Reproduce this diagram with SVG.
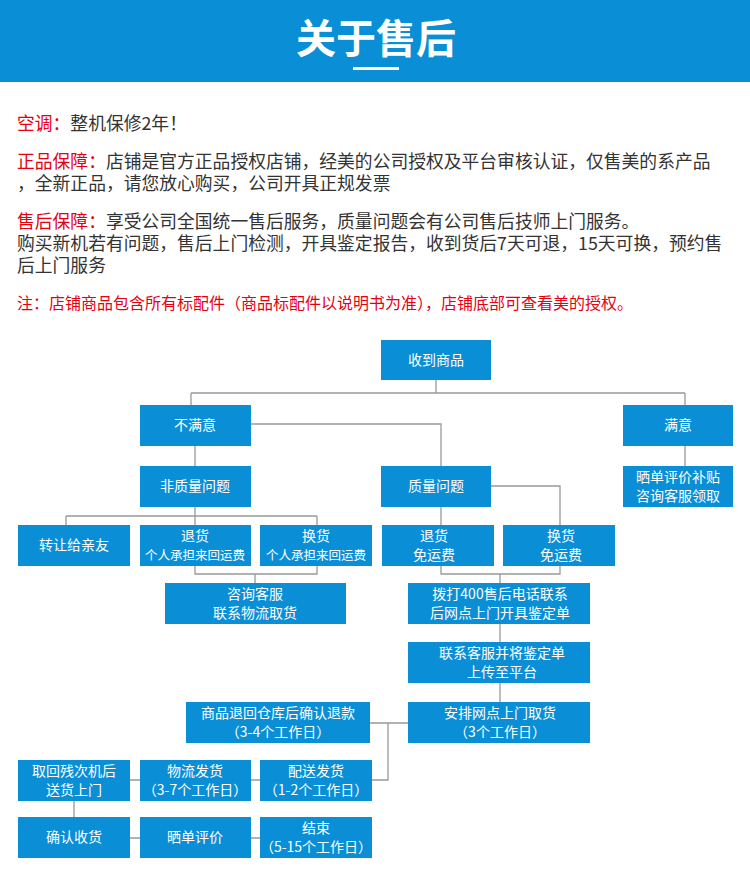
<svg xmlns="http://www.w3.org/2000/svg" width="750" height="894" viewBox="0 0 750 894">
<style>
text{font-family:"Noto Sans CJK SC","Noto Sans",sans-serif}
.b{fill:#0a8fd6}
.t{fill:#fff;font-size:14px;text-anchor:middle}
.s{font-size:12.5px}
.p{fill:#333;font-size:17.8px}
.r{fill:#e60012}
.c{stroke:#999;stroke-width:1.3;fill:none}
</style>
<rect x="0" y="0" width="750" height="82" fill="#0a8fd6"/>
<text x="376" y="53" fill="#fff" font-size="40" font-weight="bold" text-anchor="middle">关于售后</text>
<rect x="353" y="67" width="46" height="3" fill="#fff"/>
<text class="p" x="17" y="130"><tspan class="r">空调：</tspan>整机保修2年！</text>
<text class="p" x="17" y="168"><tspan class="r">正品保障：</tspan>店铺是官方正品授权店铺，经美的公司授权及平台审核认证，仅售美的系产品</text>
<text class="p" x="17" y="190">，全新正品，请您放心购买，公司开具正规发票</text>
<text class="p" x="17" y="228"><tspan class="r">售后保障：</tspan>享受公司全国统一售后服务，质量问题会有公司售后技师上门服务。</text>
<text class="p" x="17" y="250">购买新机若有问题，售后上门检测，开具鉴定报告，收到货后7天可退，15天可换，预约售</text>
<text class="p" x="17" y="272">后上门服务</text>
<text x="17" y="309" font-size="16" fill="#e60012">注：店铺商品包含所有标配件（商品标配件以说明书为准），店铺底部可查看美的授权。</text>
<g id="connectors" class="c">
<path d="M436 380V393M191 393H685M191 393V405M685 393V405"/>
<path d="M251 424H441V466"/>
<path d="M685 446V466"/>
<path d="M195 446V466"/>
<path d="M195 507V516M66 516H317M66 516V525M195 516V525M317 516V525"/>
<path d="M195 566V574H317V566M255 574V583"/>
<path d="M491 486H560V525"/>
<path d="M441 507V525"/>
<path d="M441 566V574H560V566M500 574V583"/>
<path d="M500 624V642M500 683V702"/>
<path d="M370 723H408M388 723V780H372"/>
<path d="M130 780H140M251 780H260"/>
<path d="M74 801V817"/>
<path d="M130 838H140M251 838H260"/>
</g>
<g id="n1"><rect class="b" x="381" y="340" width="110" height="40"/><text class="t" x="436" y="365">收到商品</text></g>
<g id="n2"><rect class="b" x="140" y="405" width="111" height="41"/><text class="t" x="195" y="430">不满意</text></g>
<g id="n3"><rect class="b" x="623" y="405" width="110" height="41"/><text class="t" x="678" y="430">满意</text></g>
<g id="n4"><rect class="b" x="140" y="466" width="111" height="41"/><text class="t" x="195" y="491">非质量问题</text></g>
<g id="n5"><rect class="b" x="381" y="466" width="110" height="41"/><text class="t" x="436" y="491">质量问题</text></g>
<g id="n6"><rect class="b" x="623" y="466" width="110" height="41"/><text class="t" x="678" y="482">晒单评价补贴</text><text class="t" x="678" y="501">咨询客服领取</text></g>
<g id="n7"><rect class="b" x="18" y="525" width="112" height="41"/><text class="t" x="74" y="550">转让给亲友</text></g>
<g id="n8"><rect class="b" x="140" y="525" width="111" height="41"/><text class="t" x="195" y="541">退货</text><text class="t s" x="195" y="560">个人承担来回运费</text></g>
<g id="n9"><rect class="b" x="260" y="525" width="112" height="41"/><text class="t" x="316" y="541">换货</text><text class="t s" x="316" y="560">个人承担来回运费</text></g>
<g id="n10"><rect class="b" x="382" y="525" width="112" height="41"/><text class="t" x="434" y="541">退货</text><text class="t" x="434" y="560">免运费</text></g>
<g id="n11"><rect class="b" x="503" y="525" width="112" height="41"/><text class="t" x="561" y="541">换货</text><text class="t" x="561" y="560">免运费</text></g>
<g id="n12"><rect class="b" x="165" y="583" width="181" height="41"/><text class="t" x="255" y="599">咨询客服</text><text class="t" x="255" y="618">联系物流取货</text></g>
<g id="n13"><rect class="b" x="408" y="583" width="182" height="41"/><text class="t" x="500" y="599">拨打400售后电话联系</text><text class="t" x="500" y="618">后网点上门开具鉴定单</text></g>
<g id="n14"><rect class="b" x="408" y="642" width="182" height="41"/><text class="t" x="502" y="658">联系客服并将鉴定单</text><text class="t" x="502" y="677">上传至平台</text></g>
<g id="n15"><rect class="b" x="408" y="702" width="182" height="41"/><text class="t" x="500" y="718">安排网点上门取货</text><text class="t" x="500" y="737">（3个工作日）</text></g>
<g id="n16"><rect class="b" x="186" y="702" width="184" height="41"/><text class="t" x="278" y="718">商品退回仓库后确认退款</text><text class="t" x="278" y="737">（3-4个工作日）</text></g>
<g id="n17"><rect class="b" x="18" y="760" width="112" height="41"/><text class="t" x="74" y="776">取回残次机后</text><text class="t" x="74" y="795">送货上门</text></g>
<g id="n18"><rect class="b" x="140" y="760" width="111" height="41"/><text class="t" x="195" y="776">物流发货</text><text class="t" x="195" y="795">（3-7个工作日）</text></g>
<g id="n19"><rect class="b" x="260" y="760" width="112" height="41"/><text class="t" x="316" y="776">配送发货</text><text class="t" x="316" y="795">（1-2个工作日）</text></g>
<g id="n20"><rect class="b" x="18" y="817" width="112" height="41"/><text class="t" x="74" y="842">确认收货</text></g>
<g id="n21"><rect class="b" x="140" y="817" width="111" height="41"/><text class="t" x="195" y="842">晒单评价</text></g>
<g id="n22"><rect class="b" x="260" y="817" width="112" height="41"/><text class="t" x="316" y="833">结束</text><text class="t" x="316" y="852">（5-15个工作日）</text></g>
</svg>
